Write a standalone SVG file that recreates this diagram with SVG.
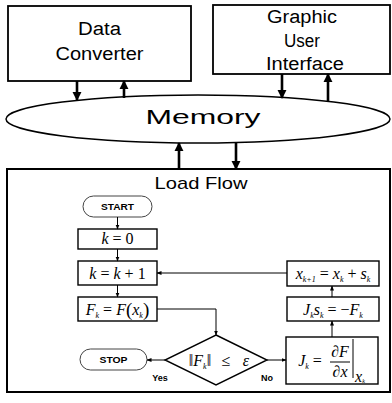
<svg xmlns="http://www.w3.org/2000/svg" width="392" height="403" viewBox="0 0 392 403">
<style>
.box{fill:#fff;stroke:#000;stroke-width:1.8}
.fbox{fill:#fff;stroke:#000;stroke-width:1.4}
.term{fill:#fff;stroke:#444;stroke-width:1}
.lbl{font-family:"Liberation Sans",Arial,sans-serif;fill:#000;text-anchor:middle}
.small{font-family:"Liberation Sans",Arial,sans-serif;font-weight:bold;fill:#000;text-anchor:middle;font-size:9px}
.math{font-family:"Liberation Serif","Times New Roman",serif;fill:#000;text-anchor:middle;font-size:16px}
.it{font-style:italic}
.sub{font-size:8px;font-style:italic}
.thick{stroke:#000;stroke-width:2.6;fill:none}
.thin{stroke:#000;stroke-width:1;fill:none}
</style>
<defs>
<marker id="ah" viewBox="0 0 10 10" refX="9" refY="5" markerWidth="3.6" markerHeight="3.6" orient="auto" markerUnits="strokeWidth">
<path d="M0,0 L10,5 L0,10 z" fill="#000"/>
</marker>
<marker id="as" viewBox="0 0 10 10" refX="9" refY="5" markerWidth="5" markerHeight="5" orient="auto" markerUnits="strokeWidth">
<path d="M0,1 L10,5 L0,9 z" fill="#000"/>
</marker>
</defs>
<rect width="392" height="403" fill="#fff"/>

<g id="data-converter">
<rect class="box" x="8" y="6" width="183" height="75"/>
<text class="lbl" x="99.5" y="35" font-size="18" textLength="43" lengthAdjust="spacingAndGlyphs">Data</text>
<text class="lbl" x="99.5" y="60" font-size="18" textLength="88" lengthAdjust="spacingAndGlyphs">Converter</text>
</g>

<g id="gui">
<rect class="box" x="213" y="5" width="177" height="69"/>
<text class="lbl" x="302" y="23" font-size="18" textLength="70" lengthAdjust="spacingAndGlyphs">Graphic</text>
<text class="lbl" x="302" y="47" font-size="18" textLength="36" lengthAdjust="spacingAndGlyphs">User</text>
<text class="lbl" x="305" y="70" font-size="18" textLength="78" lengthAdjust="spacingAndGlyphs">Interface</text>
</g>

<g id="memory">
<ellipse cx="198" cy="119" rx="192" ry="24" fill="#fff" stroke="#000" stroke-width="1.5"/>
<text class="lbl" x="203" y="124" font-size="21" textLength="115" lengthAdjust="spacingAndGlyphs">Memory</text>
</g>

<g id="load-flow">
<rect x="7" y="169" width="383" height="223" fill="#fff" stroke="#000" stroke-width="2"/>
<text class="lbl" x="201" y="189" font-size="17" textLength="93" lengthAdjust="spacingAndGlyphs">Load Flow</text>
</g>

<g id="start">
<rect class="term" x="83" y="196" width="69" height="21" rx="10.5"/>
<text class="small" x="117.5" y="210" textLength="33" lengthAdjust="spacingAndGlyphs">START</text>
</g>

<g id="k0">
<rect class="fbox" x="78" y="229" width="79" height="20"/>
<text class="math" x="117.5" y="244"><tspan class="it">k</tspan> = 0</text>
</g>

<g id="kinc">
<rect class="fbox" x="78" y="261" width="79" height="24"/>
<text class="math" x="117.5" y="279" font-size="17"><tspan class="it">k</tspan> = <tspan class="it">k</tspan> + 1</text>
</g>

<g id="fk">
<rect class="fbox" x="78" y="297" width="79" height="24"/>
<text class="math" x="117.5" y="315" font-size="17"><tspan class="it">F</tspan><tspan class="sub" dy="3">k</tspan><tspan dy="-3"> = </tspan><tspan class="it">F</tspan><tspan font-size="19" dy="1">(</tspan><tspan class="it" dy="-1">x</tspan><tspan class="sub" dy="3">k</tspan><tspan font-size="19" dy="-2">)</tspan></text>
</g>

<g id="decision">
<polygon points="216,335 267,360 216,385 165,360" fill="#fff" stroke="#000" stroke-width="1.4"/>
<text class="math" x="200" y="366" font-size="17">‖<tspan class="it">F</tspan><tspan class="sub" dy="3">k</tspan><tspan dy="-3">‖</tspan></text>
<text class="math" x="226" y="366" font-size="15">≤</text>
<text class="math it" x="246" y="366" font-size="16">ε</text>
</g>

<g id="stop">
<rect class="term" x="80" y="349" width="67" height="21" rx="10.5"/>
<text class="small" x="113.5" y="363" textLength="28" lengthAdjust="spacingAndGlyphs">STOP</text>
</g>

<g id="xk1">
<rect class="fbox" x="287" y="261" width="92" height="25"/>
<text class="math" x="333" y="279" font-size="17"><tspan class="it">x</tspan><tspan class="sub" dy="3">k+1</tspan><tspan dy="-3"> = </tspan><tspan class="it">x</tspan><tspan class="sub" dy="3">k</tspan><tspan dy="-3"> + </tspan><tspan class="it">s</tspan><tspan class="sub" dy="3">k</tspan></text>
</g>

<g id="jsk">
<rect class="fbox" x="287" y="297" width="92" height="24"/>
<text class="math" x="333" y="315" font-size="17"><tspan class="it">J</tspan><tspan class="sub" dy="3">k</tspan><tspan class="it" dy="-3">s</tspan><tspan class="sub" dy="3">k</tspan><tspan dy="-3"> = −</tspan><tspan class="it">F</tspan><tspan class="sub" dy="3">k</tspan></text>
</g>

<g id="jacobian">
<rect class="fbox" x="286" y="337" width="92" height="47"/>
<text class="math" x="310" y="366" font-size="17"><tspan class="it">J</tspan><tspan class="sub" dy="3">k</tspan><tspan dy="-3"> =</tspan></text>
<text class="math" x="340" y="357" font-size="16">∂<tspan class="it">F</tspan></text>
<line x1="330" y1="362" x2="350" y2="362" stroke="#000" stroke-width="1"/>
<text class="math" x="340" y="377" font-size="16">∂<tspan class="it">x</tspan></text>
<line x1="353" y1="339" x2="353" y2="378" stroke="#000" stroke-width="1"/>
<text class="math" x="360" y="382" font-size="7"><tspan class="it">x</tspan><tspan class="it" font-size="6" dy="1">k</tspan></text>
</g>

<g id="labels">
<text class="small" x="160" y="381">Yes</text>
<text class="small" x="267" y="381">No</text>
</g>

<g id="connectors">
<line class="thick" x1="77" y1="81" x2="77" y2="100" marker-end="url(#ah)"/>
<line class="thick" x1="124" y1="98" x2="124" y2="81" marker-end="url(#ah)"/>
<line class="thick" x1="282" y1="74" x2="282" y2="98" marker-end="url(#ah)"/>
<line class="thick" x1="328" y1="102" x2="328" y2="74" marker-end="url(#ah)"/>
<line class="thick" x1="179" y1="169" x2="179" y2="143" marker-end="url(#ah)"/>
<line class="thick" x1="236" y1="143" x2="236" y2="169" marker-end="url(#ah)"/>
<line class="thin" x1="117.5" y1="217" x2="117.5" y2="229" marker-end="url(#as)"/>
<line class="thin" x1="117.5" y1="249" x2="117.5" y2="261" marker-end="url(#as)"/>
<line class="thin" x1="117.5" y1="285" x2="117.5" y2="297" marker-end="url(#as)"/>
<polyline class="thin" points="157,309 216,309 216,335" marker-end="url(#as)"/>
<line class="thin" x1="165" y1="360" x2="147" y2="360" marker-end="url(#as)"/>
<line class="thin" x1="267" y1="360" x2="286" y2="360" marker-end="url(#as)"/>
<line class="thin" x1="332" y1="337" x2="332" y2="321" marker-end="url(#as)"/>
<line class="thin" x1="332" y1="297" x2="332" y2="286" marker-end="url(#as)"/>
<line class="thin" x1="287" y1="273" x2="157" y2="273" marker-end="url(#as)"/>
</g>
</svg>
